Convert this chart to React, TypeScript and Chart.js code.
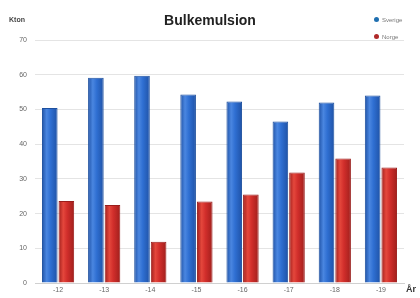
import React, { useEffect, useRef } from "react";
import { Chart, registerables } from "chart.js";

Chart.register(...registerables);

const categories = ["-12", "-13", "-14", "-15", "-16", "-17", "-18", "-19"];
const sverige = [50.4, 59.1, 59.7, 54.3, 52.3, 46.5, 52.0, 54.0];
const norge = [23.6, 22.5, 11.9, 23.5, 25.5, 31.8, 35.9, 33.3];
const seriesNames = ["Sverige", "Norge"];
const titleText = "Bulkemulsion";
const yTitle = "Kton";
const xTitle = "År";

const CAT_PCT = 0.72;
const BAR_PCT = 0.94;

function shade(edge: string, mid: string, hi: string, dsIndex: number) {
  return (ctx: any) => {
    const chart = ctx.chart;
    const xs = chart.scales && chart.scales.x;
    if (!xs || ctx.dataIndex === undefined || !chart.chartArea) return mid;
    const catW = xs.width / categories.length;
    const slot = (catW * CAT_PCT) / 2;
    const w = slot * BAR_PCT;
    const center = xs.getPixelForValue(ctx.dataIndex) + (dsIndex === 0 ? -slot / 2 : slot / 2);
    const g = chart.ctx.createLinearGradient(center - w / 2, 0, center + w / 2, 0);
    g.addColorStop(0, edge);
    g.addColorStop(0.3, hi);
    g.addColorStop(0.55, mid);
    g.addColorStop(1, edge);
    return g;
  };
}

export default function App() {
  const ref = useRef<HTMLCanvasElement>(null);
  useEffect(() => {
    if (!ref.current) return;
    const chart = new Chart(ref.current, {
      type: "bar",
      data: {
        labels: categories,
        datasets: [
          {
            label: seriesNames[0],
            data: sverige,
            backgroundColor: shade("#1f52a6", "#2f6fd2", "#4a86e0", 0),
            borderColor: "#1d4f9e",
            borderWidth: 1,
            barPercentage: BAR_PCT,
            categoryPercentage: CAT_PCT,
          },
          {
            label: seriesNames[1],
            data: norge,
            backgroundColor: shade("#a01f1c", "#d12e2b", "#e4473c", 1),
            borderColor: "#9a1e1c",
            borderWidth: 1,
            barPercentage: BAR_PCT,
            categoryPercentage: CAT_PCT,
          },
        ],
      },
      options: {
        responsive: false,
        animation: false,
        maintainAspectRatio: false,
        layout: { padding: { left: 6, right: 16, top: 40, bottom: 0 } },
        plugins: { legend: { display: false }, tooltip: { enabled: false }, title: { display: false } },
        scales: {
          x: {
            grid: { display: false, tickLength: 2 },
            border: { color: "#d0d0d0" },
            ticks: { color: "#666", font: { size: 7, family: "Arial, Liberation Sans" }, padding: 1 },
            afterFit: (s: any) => { s.height = 15; },
          },
          y: {
            min: 0,
            max: 70,
            ticks: { stepSize: 10, color: "#666", font: { size: 7, family: "Arial, Liberation Sans" }, padding: 8 },
            grid: { color: "#e4e4e4", drawTicks: false },
            border: { display: false },
            afterFit: (s: any) => { s.width = 29; },
          },
        },
      },
    });
    return () => chart.destroy();
  }, []);
  return (
    <div style={{ position: "fixed", left: 0, top: 0, width: 420, height: 298, background: "#fff", fontFamily: "Arial, 'Liberation Sans', sans-serif" }}>
      <canvas ref={ref} width={420} height={298} style={{ position: "absolute", left: 0, top: 0 }} />
      <div style={{ position: "absolute", left: 0, width: 420, top: 12, textAlign: "center", fontWeight: "bold", fontSize: 14, color: "#222" }}>{titleText}</div>
      <div style={{ position: "absolute", left: 9, top: 16, fontSize: 7, color: "#444", fontWeight: "bold" }}>{yTitle}</div>
      <div style={{ position: "absolute", left: 406, top: 284, fontSize: 9, color: "#333", fontWeight: "bold" }}>{xTitle}</div>
      <div style={{ position: "absolute", left: 374, top: 12, fontSize: 6, color: "#777", lineHeight: "17px", whiteSpace: "nowrap" }}>
        <div><span style={{ display: "inline-block", width: 5, height: 5, borderRadius: 3, background: "#1f6fb0", marginRight: 3 }} />{seriesNames[0]}</div>
        <div><span style={{ display: "inline-block", width: 5, height: 5, borderRadius: 3, background: "#b02a2a", marginRight: 3 }} />{seriesNames[1]}</div>
      </div>
    </div>
  );
}
